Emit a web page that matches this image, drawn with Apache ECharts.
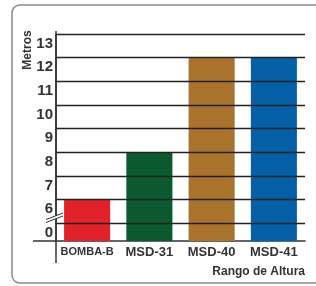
<!DOCTYPE html>
<html>
<head>
<meta charset="utf-8">
<script src="https://cdn.jsdelivr.net/npm/echarts@6/dist/echarts.min.js"></script>
<style>
  html, body { margin: 0; padding: 0; background: #fff; }
</style>
</head>
<body>
<div id="main" style="width: 316px;height: 286px"></div>
<script>
    // datos
    var categories = ['BOMBA-B', 'MSD-31', 'MSD-40', 'MSD-41'];
    var alturas = [6, 8, 12, 12];
    var tickLabels = ['0', '6', '7', '8', '9', '10', '11', '12', '13'];
    var barColors = ['#e2222b', '#0b5a2f', '#a9732d', '#0560a7'];

    // eje cortado: cada etiqueta ocupa una unidad, el "0" queda 0.75 por encima del eje X
    var OFFSET = 0.75;
    function toAxis(v) {
        return tickLabels.indexOf(String(v)) + OFFSET;
    }

    var FONT = '"Liberation Sans", Arial, sans-serif';

    var myChart = echarts.init(document.getElementById('main'), null, {renderer: 'canvas'});
    var option = {
        animation: false,
        grid: {
            left: 56,
            right: 11,
            top: 34,
            bottom: 45
        },
        xAxis: {
            type: 'category',
            data: categories,
            axisTick: {show: false},
            axisLine: {lineStyle: {color: '#333', width: 1.5}},
            axisLabel: {
                interval: 0,
                margin: 5,
                formatter: function (v) {
                    return v === 'BOMBA-B' ? '{s|' + v + '}' : '{b|' + v + '}';
                },
                rich: {
                    s: {fontFamily: FONT, fontWeight: 'bold', fontSize: 11, color: '#333'},
                    b: {fontFamily: FONT, fontWeight: 'bold', fontSize: 13, color: '#333'}
                }
            }
        },
        yAxis: {
            type: 'value',
            min: 0,
            max: tickLabels.length - 1 + OFFSET,
            interval: 0.25,
            z: 5,
            axisLine: {show: true, lineStyle: {color: '#333', width: 1.5}},
            axisTick: {show: false},
            splitLine: {
                show: true,
                lineStyle: {
                    color: ['rgba(0,0,0,0)', 'rgba(0,0,0,0)', 'rgba(0,0,0,0)', '#222'],
                    width: 1.3
                }
            },
            axisLabel: {
                margin: 3,
                verticalAlign: 'top',
                padding: [2, 0, 0, 0],
                fontFamily: FONT,
                fontWeight: 'bold',
                fontSize: 15,
                color: '#333',
                formatter: function (v) {
                    var idx = Math.round(v * 4);
                    if (idx % 4 === 3) {
                        return tickLabels[(idx - 3) / 4];
                    }
                    return '';
                }
            }
        },
        series: [{
            type: 'bar',
            barCategoryGap: '26%',
            data: alturas.map(function (v, i) {
                return {value: toAxis(v), itemStyle: {color: barColors[i]}};
            })
        }],
        graphic: [
            {
                type: 'rect',
                shape: {x: 12, y: 5, width: 320, height: 278, r: 8},
                style: {fill: null, stroke: '#8a8a8a', lineWidth: 1.5},
                z: 0
            },
            {
                type: 'line',
                shape: {x1: 56, y1: 31, x2: 56, y2: 263},
                style: {stroke: '#333', lineWidth: 1.5},
                z: 50
            },
            {
                type: 'line',
                shape: {x1: 33, y1: 241, x2: 56, y2: 241},
                style: {stroke: '#333', lineWidth: 1.5},
                z: 50
            },
            {
                type: 'polygon',
                shape: {points: [[46, 219.5], [63, 213], [63, 216], [46, 222.5]]},
                style: {fill: '#fff'},
                z: 60
            },
            {
                type: 'line',
                shape: {x1: 46, y1: 219.5, x2: 63, y2: 213},
                style: {stroke: '#333', lineWidth: 1},
                z: 61
            },
            {
                type: 'line',
                shape: {x1: 46, y1: 222.5, x2: 63, y2: 216},
                style: {stroke: '#333', lineWidth: 1},
                z: 61
            },
            {
                type: 'text',
                x: 28,
                y: 50,
                rotation: Math.PI / 2,
                style: {
                    text: 'Metros',
                    fontFamily: FONT,
                    fontWeight: 'bold',
                    fontSize: 12,
                    fill: '#333',
                    align: 'center',
                    verticalAlign: 'middle'
                }
            },
            {
                type: 'text',
                x: 305,
                y: 272,
                style: {
                    text: 'Rango de Altura',
                    fontFamily: FONT,
                    fontWeight: 'bold',
                    fontSize: 12,
                    fill: '#333',
                    align: 'right',
                    verticalAlign: 'middle'
                }
            }
        ]
    };
    myChart.setOption(option);
</script>
</body>
</html>
